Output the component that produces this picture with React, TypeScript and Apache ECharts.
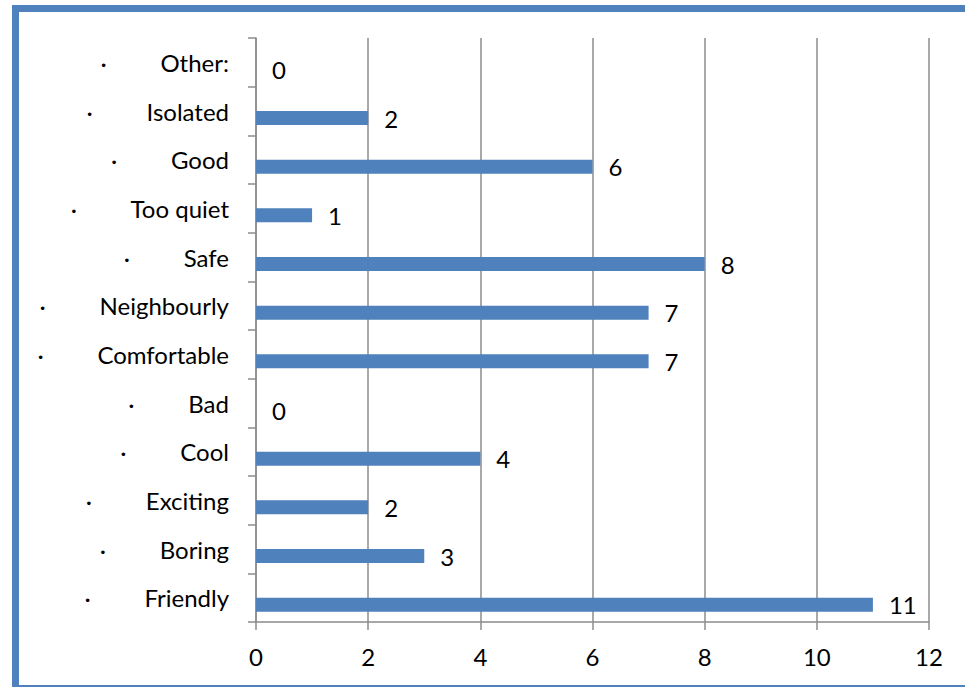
import React, { useEffect, useRef } from "react";
import * as echarts from "echarts";

const categories = ["Friendly", "Boring", "Exciting", "Cool", "Bad", "Comfortable", "Neighbourly", "Safe", "Too quiet", "Good", "Isolated", "Other:"];
const values = [11, 3, 2, 4, 0, 7, 7, 8, 1, 6, 2, 0];
const xTicks = [0, 2, 4, 6, 8, 10, 12];

const FONT = "Lato";
const FS = 24;
const GRAY = "#8c8c8c";
const BLUE = "#4f81bd";

export default function App() {
  const ref = useRef<HTMLDivElement>(null);
  useEffect(() => {
    if (!ref.current) return;
    const chart = echarts.init(ref.current, undefined, { renderer: "svg" });
    chart.setOption({
      animation: false,
      backgroundColor: "#ffffff",
      textStyle: { fontFamily: FONT },
      grid: { left: 256, right: 36, top: 38, bottom: 65, containLabel: false },
      xAxis: {
        type: "value",
        min: xTicks[0],
        max: xTicks[xTicks.length - 1],
        interval: 2,
        axisLine: { show: true, lineStyle: { color: GRAY, width: 1.5 } },
        axisTick: { show: true, length: 8, lineStyle: { color: GRAY, width: 1.5 } },
        splitLine: { show: true, lineStyle: { color: GRAY, width: 1.5 } },
        axisLabel: { color: "#000", fontSize: FS, fontFamily: FONT, margin: 22 },
      },
      yAxis: {
        type: "category",
        data: categories,
        axisLine: { show: true, lineStyle: { color: GRAY, width: 1.5 } },
        axisTick: { show: true, length: 8, lineStyle: { color: GRAY, width: 1.5 } },
        splitLine: { show: false },
        axisLabel: {
          margin: 27,
          formatter: (v: string) => `{d|·}{n|${v}}`,
          rich: {
            d: { width: 60, align: "left", fontSize: FS, fontFamily: FONT, color: "#000" },
            n: { fontSize: FS, fontFamily: FONT, color: "#000" },
          },
        },
      },
      series: [
        {
          type: "bar",
          data: categories.map(() => "-"),
          barWidth: 14,
          barGap: "0%",
          silent: true,
        },
        {
          type: "bar",
          data: values,
          barWidth: 14,
          barGap: "0%",
          itemStyle: { color: BLUE },
          label: {
            show: true,
            position: "right",
            distance: 16,
            color: "#000",
            fontSize: FS,
            fontFamily: FONT,
          },
        },
      ],
      graphic: [
        {
          type: "rect",
          silent: true,
          shape: { x: 15.5, y: 8.5, width: 970, height: 680 },
          style: { fill: "none", stroke: BLUE, lineWidth: 7 },
        },
      ],
    });
    return () => chart.dispose();
  }, []);
  return <div ref={ref} style={{ position: "fixed", left: 0, top: 0, width: 965, height: 687 }} />;
}
